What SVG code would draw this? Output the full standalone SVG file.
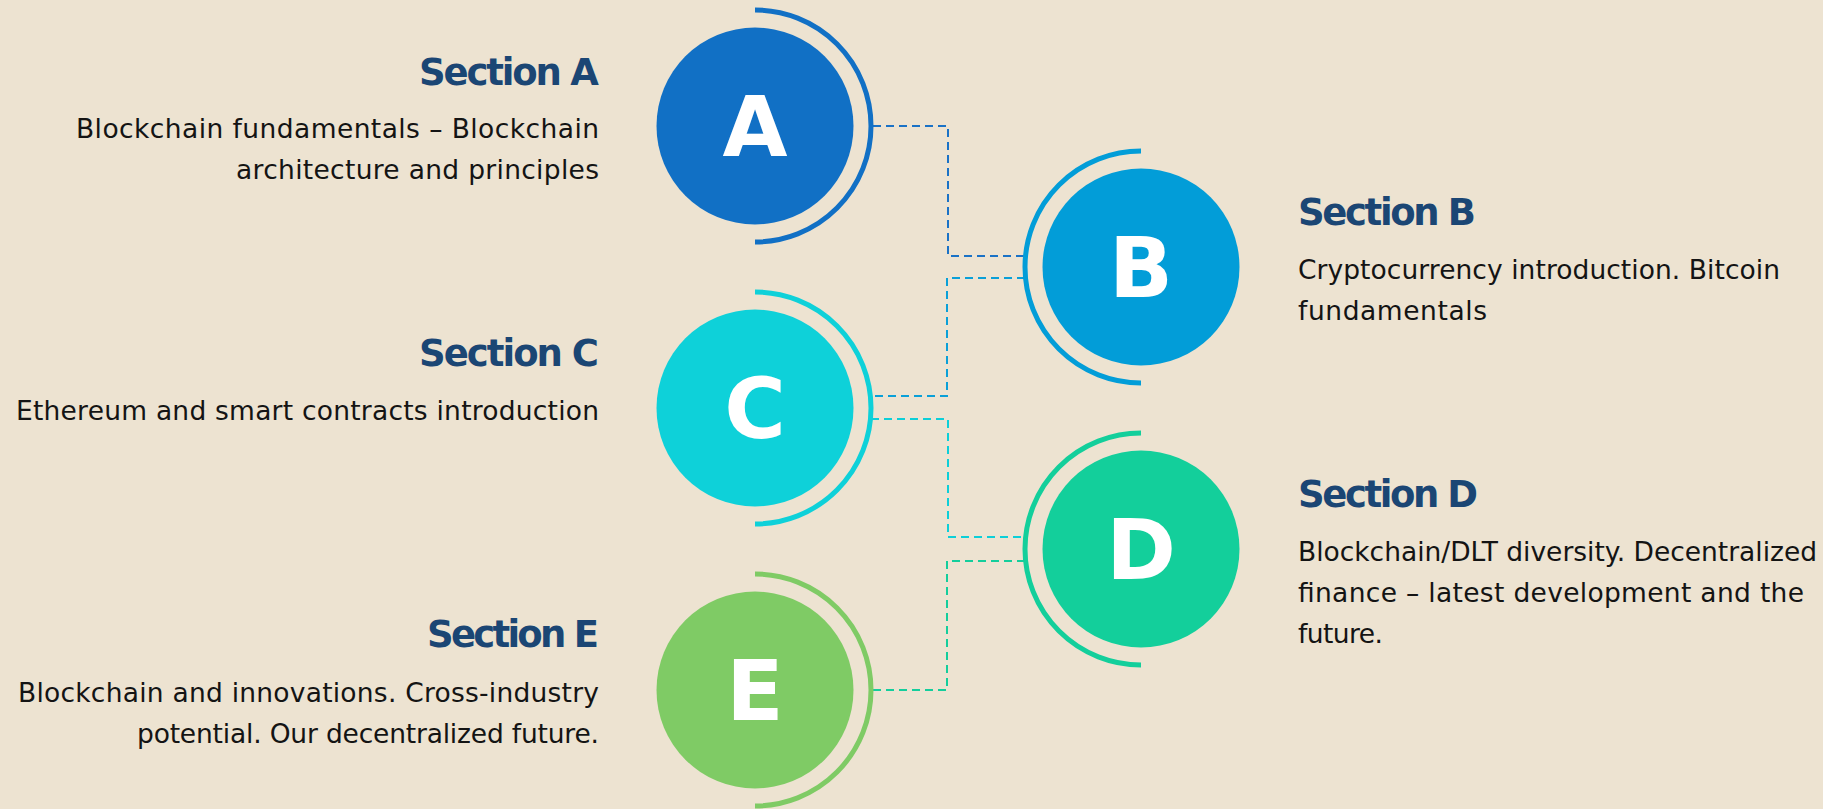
<svg xmlns="http://www.w3.org/2000/svg" width="1823" height="809" viewBox="0 0 1823 809">
<style>
.title{font-family:"DejaVu Sans","Liberation Sans",sans-serif;font-weight:bold;font-size:37px;fill:#1B4674}
.body{font-family:"DejaVu Sans","Liberation Sans",sans-serif;font-size:26.5px;fill:#141414}
.letter{font-family:"DejaVu Sans","Liberation Sans",sans-serif;font-weight:bold;font-size:84px;fill:#ffffff;text-anchor:middle}
.arc{fill:none;stroke-width:5}
.conn{fill:none;stroke-width:2;stroke-dasharray:8 5}
.r{text-anchor:end}
</style>
<rect width="1823" height="809" fill="#EDE3D1"/>
<g id="connectors">
<path class="conn" stroke="#1A72C6" d="M873,126 H948 V256 H1025"/>
<path class="conn" stroke="#0AA0D8" d="M1025,278 H947 V396 H870"/>
<path class="conn" stroke="#0DCFD8" d="M871,419 H948 V537 H1025"/>
<path class="conn" stroke="#14CE9C" d="M1025,561 H947 V690 H871"/>
</g>
<g id="node-a">
<circle cx="755" cy="126" r="98.5" fill="#1170C5"/>
<path class="arc" stroke="#1170C5" d="M755,10 A116,116 0 0 1 755,242"/>
<text class="letter" x="755" y="156">A</text>
<text class="title r" x="599" y="85" textLength="180">Section A</text>
<text class="body r" x="599" y="138" textLength="523">Blockchain fundamentals – Blockchain</text>
<text class="body r" x="599" y="179" textLength="363">architecture and principles</text>
</g>
<g id="node-b">
<circle cx="1141" cy="267" r="98.5" fill="#029DD8"/>
<path class="arc" stroke="#029DD8" d="M1141,151 A116,116 0 0 0 1141,383"/>
<text class="letter" x="1141" y="297">B</text>
<text class="title" x="1298" y="225" textLength="178">Section B</text>
<text class="body" x="1298" y="279" textLength="482">Cryptocurrency introduction. Bitcoin</text>
<text class="body" x="1298" y="320" textLength="189">fundamentals</text>
</g>
<g id="node-c">
<circle cx="755" cy="408" r="98.5" fill="#0ED1D9"/>
<path class="arc" stroke="#0ED1D9" d="M755,292 A116,116 0 0 1 755,524"/>
<text class="letter" x="755" y="438">C</text>
<text class="title r" x="599" y="366" textLength="180">Section C</text>
<text class="body r" x="599" y="420" textLength="583">Ethereum and smart contracts introduction</text>
</g>
<g id="node-d">
<circle cx="1141" cy="549" r="98.5" fill="#13CF9B"/>
<path class="arc" stroke="#13CF9B" d="M1141,433 A116,116 0 0 0 1141,665"/>
<text class="letter" x="1141" y="579">D</text>
<text class="title" x="1298" y="507" textLength="180">Section D</text>
<text class="body" x="1298" y="561" textLength="519">Blockchain/DLT diversity. Decentralized</text>
<text class="body" x="1298" y="602" textLength="506">finance – latest development and the</text>
<text class="body" x="1298" y="643" textLength="85">future.</text>
</g>
<g id="node-e">
<circle cx="755" cy="690" r="98.5" fill="#7FCB65"/>
<path class="arc" stroke="#7FCB65" d="M755,574 A116,116 0 0 1 755,806"/>
<text class="letter" x="755" y="720">E</text>
<text class="title r" x="599" y="647" textLength="172">Section E</text>
<text class="body r" x="599" y="702" textLength="581">Blockchain and innovations. Cross-industry</text>
<text class="body r" x="599" y="743" textLength="462">potential. Our decentralized future.</text>
</g>
</svg>
